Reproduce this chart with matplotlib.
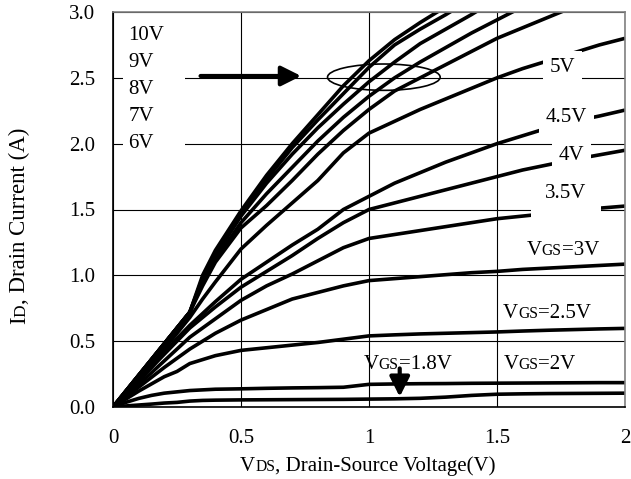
import matplotlib
matplotlib.use("Agg")
import matplotlib.pyplot as plt
from matplotlib.patches import Ellipse, Rectangle
from matplotlib.transforms import offset_copy

SERIF = "Liberation Serif"

# drain-source voltage sample points (V)
vds = [0, 0.05, 0.1, 0.15, 0.2, 0.25, 0.3, 0.35, 0.4, 0.5, 0.6, 0.7, 0.8,
       0.9, 1.0, 1.1, 1.2, 1.3, 1.4, 1.5, 1.6, 1.7, 1.8, 1.9, 2.0]

# drain current (A) for each gate voltage
id_1v8 = [0, 0.008, 0.015, 0.022, 0.03, 0.035, 0.045, 0.05, 0.052, 0.054, 0.055, 0.056, 0.057,
          0.058, 0.06, 0.062, 0.066, 0.075, 0.088, 0.097, 0.1, 0.102, 0.103, 0.104, 0.105]
id_2v = [0, 0.035, 0.065, 0.088, 0.105, 0.115, 0.125, 0.13, 0.135, 0.138, 0.142, 0.145, 0.147,
         0.15, 0.172, 0.175, 0.177, 0.178, 0.18, 0.181, 0.182, 0.183, 0.184, 0.185, 0.185]
id_2v5 = [0, 0.06, 0.12, 0.175, 0.23, 0.27, 0.33, 0.36, 0.39, 0.43, 0.45, 0.47, 0.49,
          0.515, 0.54, 0.548, 0.555, 0.56, 0.565, 0.57, 0.577, 0.583, 0.588, 0.593, 0.597]
id_3v = [0, 0.075, 0.15, 0.225, 0.3, 0.37, 0.44, 0.5, 0.56, 0.66, 0.74, 0.82, 0.87,
         0.92, 0.96, 0.975, 0.99, 1.005, 1.02, 1.03, 1.045, 1.055, 1.065, 1.075, 1.085]
id_3v5 = [0, 0.085, 0.17, 0.26, 0.35, 0.44, 0.53, 0.6, 0.67, 0.81, 0.92, 1.01, 1.11,
          1.21, 1.28, 1.31, 1.34, 1.37, 1.4, 1.43, 1.45, 1.47, 1.49, 1.51, 1.526]
id_4v = [0, 0.1, 0.2, 0.3, 0.4, 0.5, 0.6, 0.68, 0.76, 0.91, 1.03, 1.15, 1.28,
         1.4, 1.5, 1.55, 1.6, 1.65, 1.7, 1.75, 1.8, 1.84, 1.88, 1.915, 1.95]
id_4v5 = [0, 0.1, 0.2, 0.3, 0.41, 0.52, 0.62, 0.71, 0.8, 0.97, 1.1, 1.23, 1.35,
          1.5, 1.6, 1.7, 1.78, 1.86, 1.93, 2.0, 2.06, 2.12, 2.17, 2.21, 2.255]
id_5v = [0, 0.11, 0.22, 0.33, 0.44, 0.56, 0.68, 0.82, 0.95, 1.2, 1.38, 1.55, 1.72,
         1.93, 2.08, 2.17, 2.26, 2.34, 2.42, 2.5, 2.57, 2.63, 2.69, 2.75, 2.8]
id_6v = [0, 0.12, 0.24, 0.36, 0.48, 0.6, 0.72, 0.92, 1.1, 1.36, 1.53, 1.72, 1.92,
         2.1, 2.26, 2.4, 2.5, 2.6, 2.7, 2.8, 2.88, 2.96, 3.04, 3.12, 3.2]
id_7v = [0, 0.12, 0.24, 0.36, 0.48, 0.6, 0.72, 0.95, 1.12, 1.4, 1.62, 1.82, 2.02,
         2.2, 2.36, 2.5, 2.62, 2.73, 2.84, 2.94, 3.04, 3.14, 3.24, 3.34, 3.44]
id_8v = [0, 0.12, 0.24, 0.36, 0.48, 0.6, 0.72, 0.97, 1.15, 1.45, 1.7, 1.92, 2.12,
         2.3, 2.47, 2.62, 2.76, 2.87, 2.98, 3.1, 3.2, 3.3, 3.4, 3.5, 3.6]
id_9v = [0, 0.12, 0.24, 0.36, 0.48, 0.6, 0.72, 0.98, 1.17, 1.47, 1.73, 1.97, 2.18,
         2.38, 2.58, 2.75, 2.87, 2.98, 3.1, 3.2, 3.3, 3.4, 3.5, 3.6, 3.7]
id_10v = [0, 0.12, 0.24, 0.36, 0.48, 0.6, 0.72, 1.0, 1.19, 1.49, 1.76, 2.0, 2.22,
          2.44, 2.63, 2.79, 2.92, 3.04, 3.15, 3.25, 3.35, 3.45, 3.55, 3.65, 3.75]

curves = [id_1v8, id_2v, id_2v5, id_3v, id_3v5, id_4v, id_4v5, id_5v,
          id_6v, id_7v, id_8v, id_9v, id_10v]

x_ticks = [0, 0.5, 1, 1.5, 2]
x_ticklabels = ["0", "0.5", "1", "1.5", "2"]
y_ticks = [0, 0.5, 1.0, 1.5, 2.0, 2.5, 3.0]

high_labels = ["10V", "9V", "8V", "7V", "6V"]
high_label_y = [2.825, 2.62, 2.415, 2.21, 2.0]

# right-hand labels that sit on top of their curve: text, x, y, box padding
side_labels = [("5V", 1.755, 2.58, 5), ("4.5V", 1.77, 2.2, 5),
               ("4V", 1.79, 1.91, 5), ("3.5V", 1.77, 1.625, 10)]

vgs_labels = [("3V", 1.757, 1.2), ("2.5V", 1.696, 0.723), ("1.8V", 1.15, 0.33), ("2V", 1.666, 0.333)]


def mixed_text(ax, x, y, parts, size, transform, rotation=0, **kw):
    """Write text made of pieces with different sizes, sharing one baseline."""
    fig = ax.figure
    r = fig.canvas.get_renderer()
    widths = []
    for s, k in parts:
        t = fig.text(0, 0, s, fontsize=size * k, family=SERIF)
        widths.append(t.get_window_extent(r).width)
        t.remove()
    pos = -sum(widths) / 2
    for (s, k), w in zip(parts, widths):
        dx, dy = (0, pos) if rotation == 90 else (pos, 0)
        tr = offset_copy(transform, fig=fig, x=dx, y=dy, units="dots")
        ax.text(x, y, s, transform=tr, fontsize=size * k, family=SERIF,
                rotation=rotation, rotation_mode="anchor", ha="left", va="baseline", **kw)
        pos += w


fig = plt.figure(figsize=(6.31, 4.79), dpi=100)
ax = fig.add_axes([113 / 631, 72 / 479, 512 / 631, 395 / 479])

for c in curves:
    ax.plot(vds, c, color="black", lw=2.6, solid_capstyle="butt", zorder=2)

ax.set_xlim(0, 2)
ax.set_ylim(0, 3)
ax.set_xticks(x_ticks)
ax.set_xticklabels(x_ticklabels)
ax.set_yticks(y_ticks)
ax.set_yticklabels(["%.1f" % v for v in y_ticks])
ax.tick_params(length=0, labelsize=15)
ax.tick_params(axis="x", pad=16)
ax.tick_params(axis="y", pad=13)
for lab in ax.get_xticklabels() + ax.get_yticklabels():
    lab.set_family(SERIF)
ax.grid(True, color="black", lw=0.8)
ax.set_axisbelow(True)
ax.spines["left"].set_color("black")
ax.spines["bottom"].set_color("black")
ax.spines["top"].set_color("#808080")
ax.spines["right"].set_color("#808080")
for sp in ax.spines.values():
    sp.set_linewidth(1.2)

# blank area behind the stacked gate-voltage list
ax.add_patch(Rectangle((0.04, 1.87), 0.24, 1.08, facecolor="white", edgecolor="none", zorder=1))
for s, y in zip(high_labels, high_label_y):
    ax.text(0.06, y, s, fontsize=15, family=SERIF, ha="left", va="center", zorder=3)

for s, x, y, pad in side_labels:
    ax.text(x, y, s, fontsize=15, family=SERIF, ha="center", va="center", zorder=3,
            bbox=dict(facecolor="white", edgecolor="none", pad=pad))

for v, x, y in vgs_labels:
    mixed_text(ax, x, y - 0.045, [("V", 1.0), ("GS", 0.75), ("=" + v, 1.0)], 15,
               ax.transData, zorder=3)

# highlighted region near 2.5 A
ax.add_patch(Ellipse((1.058, 2.505), 0.44, 0.2, facecolor="none", edgecolor="black", lw=1.2, zorder=3))
ax.annotate("", xy=(0.735, 2.514), xytext=(0.342, 2.514),
            arrowprops=dict(arrowstyle="-|>,head_length=0.6,head_width=0.3", lw=3,
                            color="black", mutation_scale=20, shrinkA=0, shrinkB=0), zorder=4)
ax.annotate("", xy=(1.12, 0.077), xytext=(1.12, 0.293),
            arrowprops=dict(arrowstyle="-|>,head_length=0.6,head_width=0.3", lw=3,
                            color="black", mutation_scale=20, shrinkA=0, shrinkB=0), zorder=4)

# axis titles with small-cap subscripts (positions in inches)
mixed_text(ax, 3.68, 0.08, [("V", 1.0), ("DS", 0.75), (", Drain-Source Voltage(V)", 1.0)], 15,
           fig.dpi_scale_trans)
mixed_text(ax, 0.25, 2.53, [("I", 1.0), ("D", 0.75), (", Drain Current (A)", 1.0)], 16.5,
           fig.dpi_scale_trans, rotation=90)

fig.savefig("out.png", dpi=100)
